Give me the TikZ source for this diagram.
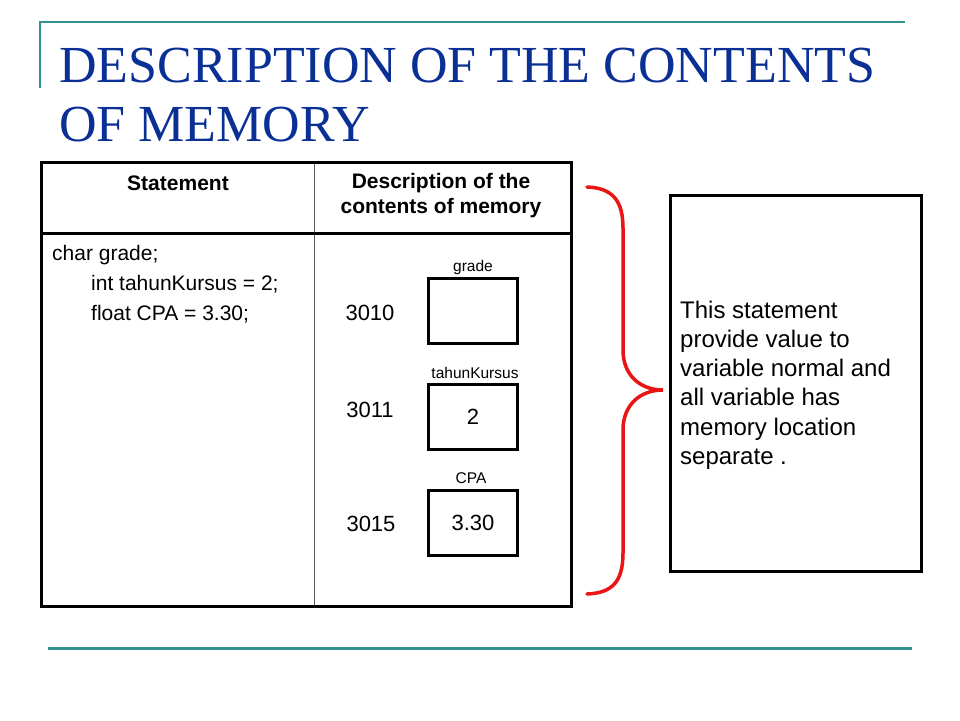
\documentclass[tikz,border=0pt]{standalone}
\usepackage{fontspec}
\setmainfont{Liberation Serif}
\setsansfont{Liberation Sans}
\definecolor{tealline}{RGB}{51,145,145}
\definecolor{titleblue}{RGB}{10,48,150}
\definecolor{bracered}{RGB}{235,20,20}
\definecolor{thingray}{RGB}{90,90,90}
\begin{document}
\begin{tikzpicture}[x=1pt,y=-1pt,
  titletext/.style={anchor=base west, inner sep=0pt, text=titleblue, font=\fontsize{52}{56}\selectfont},
  headtext/.style={inner sep=0pt, font=\sffamily\bfseries\fontsize{21}{25}\selectfont, align=center},
  codetext/.style={anchor=base west, inner sep=0pt, font=\sffamily\fontsize{21}{24}\selectfont},
  addrtext/.style={inner sep=0pt, font=\sffamily\fontsize{22}{26}\selectfont},
  vartext/.style={anchor=base, inner sep=0pt, font=\sffamily\fontsize{15.5}{18}\selectfont},
  membox/.style={draw, line width=3pt, minimum width=89pt, minimum height=65pt, inner sep=0pt, font=\sffamily\fontsize{22}{26}\selectfont},
  notebox/.style={draw, line width=3pt, minimum width=251pt, minimum height=376pt, inner sep=0pt},
  notetext/.style={anchor=north west, inner sep=0pt, align=left, font=\sffamily\fontsize{24}{29.3}\selectfont}
]
\useasboundingbox (0,0) rectangle (960,720);
\fill[white] (0,0) rectangle (960,720);
% decorative lines
\draw[tealline, line width=2pt] (40,22) -- (40,88);
\draw[tealline, line width=2.5pt] (39,22) -- (905,22);
\draw[tealline, line width=3pt] (48,648) -- (912,648);
% title
\node[titletext] (t1) at (59,82) {DESCRIPTION OF THE CONTENTS};
\node[titletext] (t2) at (59,141.5) {OF MEMORY};
% table
\draw[thingray, line width=1pt] (314,162) -- (314,606);
\draw[line width=3pt] (41,233) -- (571,233);
\draw[line width=3pt] (41,162) rectangle (571,606);
\node[headtext] (h1) at (178,183) {Statement};
\node[headtext] (h2) at (441,196) {Description of the\\contents of memory};
\node[codetext] (c1) at (52,260) {char grade;};
\node[codetext] (c2) at (91,290) {int tahunKursus = 2;};
\node[codetext] (c3) at (91,320) {float CPA = 3.30;};
% memory
\node[addrtext] (a1) at (370,312.5) {3010};
\node[addrtext] (a2) at (370,410) {3011};
\node[addrtext] (a3) at (371,524) {3015};
\node[membox] (m1) at (473,311) {};
\node[membox] (m2) at (473,417) {2};
\node[membox] (m3) at (473,522.5) {3.30};
\node[vartext] (v1) at (473,271) {grade};
\node[vartext] (v2) at (475,378) {tahunKursus};
\node[vartext] (v3) at (471,483) {CPA};
% brace
\coordinate (bt) at (587,187);
\coordinate (bc) at (663,390);
\coordinate (bb) at (587,594);
\draw[bracered, line width=3.5pt, line cap=round] (bt) .. controls (612,188) and (623,200) .. (623,228) -- (623,350) .. controls (623,375) and (640,390) .. (bc) .. controls (640,390) and (623,405) .. (623,430) -- (623,553) .. controls (623,582) and (612,593) .. (bb);
% note
\node[notebox] (n) at (795.5,383) {};
\node[notetext] (nt) at (680,300.5) {This statement\\provide value to\\variable normal and\\all variable has\\memory location\\separate .};
\end{tikzpicture}
\end{document}
